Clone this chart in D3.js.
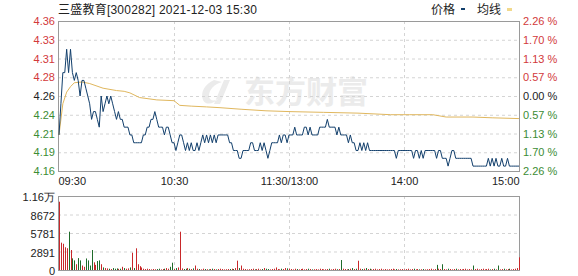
<!DOCTYPE html>
<html>
<head>
<meta charset="utf-8">
<script src="https://cdn.jsdelivr.net/npm/d3@7"></script>
<style>
  body { margin: 0; background: #fff; }
  svg { display: block; font-family: "Liberation Sans", Arial, "Noto Sans CJK SC", sans-serif; }
  .grid line { stroke: #d4d4d4; stroke-dasharray: 3,3; }
  .grid path { display: none; }
  .ax path, .ax line { display: none; }
  .ax text { font-size: 11px; }
</style>
</head>
<body>
<div id="chart"></div>
<script>
const width = 578;
const height = 276;

const title = '三盛教育[300282] 2021-12-03 15:30';
const prevClose = 4.26;
const maxPct = 0.0226;

// left / right labels of the price panel, top to bottom
const priceLabels = ['4.36', '4.33', '4.31', '4.28', '4.26', '4.24', '4.21', '4.19', '4.16'];
const pctLabels = ['2.26 %', '1.70 %', '1.13 %', '0.57 %', '0.00 %', '0.57 %', '1.13 %', '1.70 %', '2.26 %'];
const timeLabels = ['09:30', '10:30', '11:30/13:00', '14:00', '15:00'];
const timeTicks = [0, 60, 120, 180, 240];

const volMax = 11563;
const volTicks = [0, 2891, 5781, 8672, 11563];
const volLabels = ['0', '2891', '5781', '8672', '1.16万'];

// minute prices, 241 points (09:30 .. 11:30, 13:01 .. 15:00)
const prices = [
  4.21,4.25,4.29,4.29,4.32,4.29,4.32,4.29,4.28,4.29,
  4.28,4.26,4.28,4.28,4.27,4.26,4.25,4.23,4.24,4.24,
  4.23,4.22,4.26,4.24,4.25,4.26,4.25,4.26,4.25,4.24,
  4.23,4.24,4.23,4.23,4.22,4.22,4.22,4.21,4.21,4.20,
  4.20,4.20,4.20,4.20,4.21,4.21,4.22,4.22,4.23,4.23,
  4.24,4.23,4.22,4.22,4.22,4.21,4.22,4.22,4.21,4.20,
  4.20,4.19,4.20,4.21,4.21,4.20,4.19,4.20,4.19,4.20,
  4.19,4.19,4.20,4.19,4.20,4.21,4.20,4.21,4.20,4.21,
  4.20,4.21,4.20,4.21,4.21,4.21,4.21,4.21,4.21,4.20,
  4.20,4.19,4.19,4.19,4.18,4.18,4.19,4.19,4.19,4.19,
  4.20,4.20,4.19,4.19,4.19,4.20,4.19,4.20,4.19,4.18,
  4.19,4.20,4.20,4.20,4.20,4.21,4.20,4.21,4.21,4.20,
  4.21,4.21,4.21,4.22,4.21,4.21,4.21,4.21,4.22,4.22,
  4.21,4.22,4.21,4.21,4.21,4.21,4.22,4.22,4.22,4.22,
  4.23,4.22,4.22,4.22,4.22,4.21,4.22,4.21,4.21,4.21,
  4.21,4.20,4.21,4.20,4.20,4.19,4.19,4.20,4.19,4.20,
  4.19,4.20,4.19,4.19,4.19,4.19,4.19,4.19,4.19,4.19,
  4.19,4.19,4.19,4.19,4.19,4.19,4.18,4.19,4.19,4.19,
  4.19,4.19,4.19,4.19,4.19,4.18,4.19,4.19,4.18,4.19,
  4.18,4.19,4.19,4.19,4.19,4.19,4.19,4.18,4.19,4.19,
  4.18,4.18,4.18,4.17,4.18,4.19,4.19,4.18,4.18,4.18,
  4.18,4.18,4.18,4.18,4.18,4.18,4.17,4.17,4.17,4.17,
  4.17,4.17,4.17,4.17,4.18,4.17,4.18,4.17,4.18,4.17,
  4.17,4.18,4.17,4.17,4.18,4.17,4.17,4.17,4.17,4.17,
  4.17
];

// average price line, read at these minutes
const avgMinutes = [0, 2, 4, 6, 8, 12, 16, 23, 30, 34, 37, 42, 51, 60, 63, 69, 77, 84, 95, 108, 120, 138, 156, 173, 183, 195, 202, 216, 226, 240];
const avgValues = [4.21, 4.25, 4.265, 4.272, 4.277, 4.278, 4.276, 4.27, 4.267, 4.266, 4.264, 4.258, 4.255, 4.254, 4.248, 4.247, 4.246, 4.245, 4.243, 4.241, 4.24, 4.239, 4.238, 4.236, 4.236, 4.236, 4.233, 4.233, 4.232, 4.231];

// minute volumes (lots)
const volumes = [
  10670,4270,4100,3550,3400,5985,3125,1820,1500,900,
  1860,1500,700,500,1800,1500,700,3125,1200,800,
  1400,1500,900,400,300,250,200,150,300,200,
  250,180,200,500,300,200,250,400,2700,300,
  3390,900,600,400,200,150,200,150,100,150,
  120,150,200,100,150,200,300,200,500,1140,
  150,300,400,5985,250,150,200,300,200,150,
  250,700,200,150,100,200,150,120,100,150,
  200,150,100,150,200,150,100,120,150,150,
  200,150,300,1460,300,700,200,150,100,120,
  150,200,100,150,200,100,150,300,200,150,
  100,150,200,400,150,100,200,150,300,250,
  200,150,100,200,150,100,150,200,100,150,
  200,150,100,120,150,100,200,150,100,120,
  150,200,100,150,200,120,150,1560,200,150,
  100,150,200,300,150,200,1450,200,150,200,
  300,150,200,100,150,200,100,150,200,100,
  150,100,120,150,200,100,150,100,120,150,
  100,150,200,100,150,200,100,150,100,120,
  150,100,120,150,200,100,150,800,200,150,
  900,150,100,200,150,100,150,200,100,150,
  100,150,200,100,150,100,700,150,200,100,
  150,200,100,150,200,100,150,200,100,700,
  100,150,200,100,150,200,100,150,200,300,
  1980
];

const red = '#d2393b';
const green = '#3c8c34';
const lineBlue = '#123f6c';
const avgGold = '#e0b75e';

const plot = { left: 58, right: 519, top: 21, bottom: 171 };
const vol = { top: 196, bottom: 270 };

const svg = d3.select('#chart')
  .append('svg')
  .attr('width', width)
  .attr('height', height);

const x = d3.scaleLinear().domain([0, 240]).range([plot.left + 1, plot.right]);
const y = d3.scaleLinear()
  .domain([prevClose * (1 - maxPct), prevClose * (1 + maxPct)])
  .range([plot.bottom, plot.top]);
const yVol = d3.scaleLinear().domain([0, volMax]).range([vol.bottom, vol.top]);

const priceTickVals = d3.range(4, -5, -1).map(k => prevClose * (1 + k / 4 * maxPct));
const labelColor = i => i < 4 ? red : (i === 4 ? '#222' : green);

// watermark (logo + name)
const wm = svg.append('g').attr('fill', '#ebebeb');
wm.append('path')
  .attr('d', 'M214,80 C205,84 200,92 203,100 C206,106 214,104 219,98 C215,102 209,101 209,96 C209,90 214,84 222,82 Z M224,80 L230,80 L220,104 L214,104 Z');
wm.append('text')
  .attr('x', 244).attr('y', 103)
  .attr('font-family', '"Noto Sans CJK SC", sans-serif')
  .attr('font-size', 31).attr('font-weight', 'bold')
  .text('东方财富');

// grid, price panel
svg.append('g').attr('class', 'grid')
  .attr('transform', `translate(${plot.left},0)`)
  .call(d3.axisLeft(y).tickValues(priceTickVals.slice(1, 8)).tickFormat('').tickSize(-(plot.right - plot.left)));
svg.append('g').attr('class', 'grid')
  .attr('transform', `translate(0,${plot.top})`)
  .call(d3.axisBottom(x).tickValues(timeTicks.slice(1, 4)).tickFormat('').tickSize(plot.bottom - plot.top));

// grid, volume panel
svg.append('g').attr('class', 'grid')
  .attr('transform', `translate(${plot.left},0)`)
  .call(d3.axisLeft(yVol).tickValues(volTicks.slice(1, 4)).tickFormat('').tickSize(-(plot.right - plot.left)));
svg.append('g').attr('class', 'grid')
  .attr('transform', `translate(0,${vol.top})`)
  .call(d3.axisBottom(x).tickValues(timeTicks.slice(1, 4)).tickFormat('').tickSize(vol.bottom - vol.top));

// frames
[[plot.top, plot.bottom], [vol.top, vol.bottom]].forEach(([t, b]) => {
  svg.append('rect')
    .attr('x', plot.left + 0.5).attr('y', t + 0.5)
    .attr('width', plot.right - plot.left).attr('height', b - t)
    .attr('fill', 'none').attr('stroke', '#9a9a9a');
});

// average line and price line
svg.append('path')
  .datum(avgMinutes.map((m, i) => [m, avgValues[i]]))
  .attr('fill', 'none').attr('stroke', avgGold).attr('stroke-width', 1)
  .attr('d', d3.line().x(d => x(d[0])).y(d => y(d[1])));

svg.append('path')
  .datum(prices)
  .attr('fill', 'none').attr('stroke', lineBlue).attr('stroke-width', 1)
  .attr('d', d3.line().x((d, i) => x(i)).y(d => y(d)));

// volume bars, red when the minute price did not fall
svg.append('g')
  .selectAll('line')
  .data(volumes)
  .join('line')
  .attr('x1', (d, i) => Math.round(x(i)) + 0.5)
  .attr('x2', (d, i) => Math.round(x(i)) + 0.5)
  .attr('y1', yVol(0))
  .attr('y2', d => yVol(d))
  .attr('stroke', (d, i) => (i === 0 || prices[i] >= prices[i - 1]) ? '#c8282a' : '#1f6b2a')
  .attr('stroke-width', 1);

// left price axis
const leftAx = svg.append('g').attr('class', 'ax')
  .attr('transform', `translate(${plot.left},0)`)
  .call(d3.axisLeft(y).tickValues(priceTickVals).tickSize(0).tickPadding(3)
    .tickFormat((d, i) => priceLabels[i]));
leftAx.selectAll('text').attr('fill', (d, i) => labelColor(i));

// right pct axis
const rightAx = svg.append('g').attr('class', 'ax')
  .attr('transform', `translate(${plot.right},0)`)
  .call(d3.axisRight(y).tickValues(priceTickVals).tickSize(0).tickPadding(4)
    .tickFormat((d, i) => pctLabels[i]));
rightAx.selectAll('text').attr('fill', (d, i) => labelColor(i));

// time axis
const timeAx = svg.append('g').attr('class', 'ax')
  .attr('transform', `translate(0,${plot.bottom + 4})`)
  .call(d3.axisBottom(x).tickValues(timeTicks).tickSize(0).tickPadding(2)
    .tickFormat((d, i) => timeLabels[i]));
timeAx.selectAll('text').attr('fill', '#222')
  .attr('text-anchor', (d, i) => i === 0 ? 'start' : (i === 4 ? 'end' : 'middle'))
  .attr('dx', (d, i) => i === 0 ? -1 : 0);

// volume axis
svg.append('g').attr('class', 'ax')
  .attr('transform', `translate(${plot.left},0)`)
  .call(d3.axisLeft(yVol).tickValues(volTicks).tickSize(0).tickPadding(3)
    .tickFormat((d, i) => volLabels[i]))
  .selectAll('text').attr('fill', '#222').attr('dy', '0.45em');

// title and legend
svg.append('text')
  .attr('x', plot.left).attr('y', 14)
  .attr('font-size', 12).attr('fill', '#222')
  .attr('textLength', 199).attr('lengthAdjust', 'spacing')
  .text(title);

const legend = svg.append('g').attr('font-size', 12).attr('fill', '#222');
legend.append('text').attr('x', 431).attr('y', 14).text('价格');
legend.append('rect').attr('x', 461).attr('y', 8).attr('width', 4).attr('height', 2).attr('fill', lineBlue);
legend.append('text').attr('x', 477).attr('y', 14).text('均线');
legend.append('rect').attr('x', 507).attr('y', 8).attr('width', 5).attr('height', 3).attr('fill', '#f1d98c');
</script>
</body>
</html>
